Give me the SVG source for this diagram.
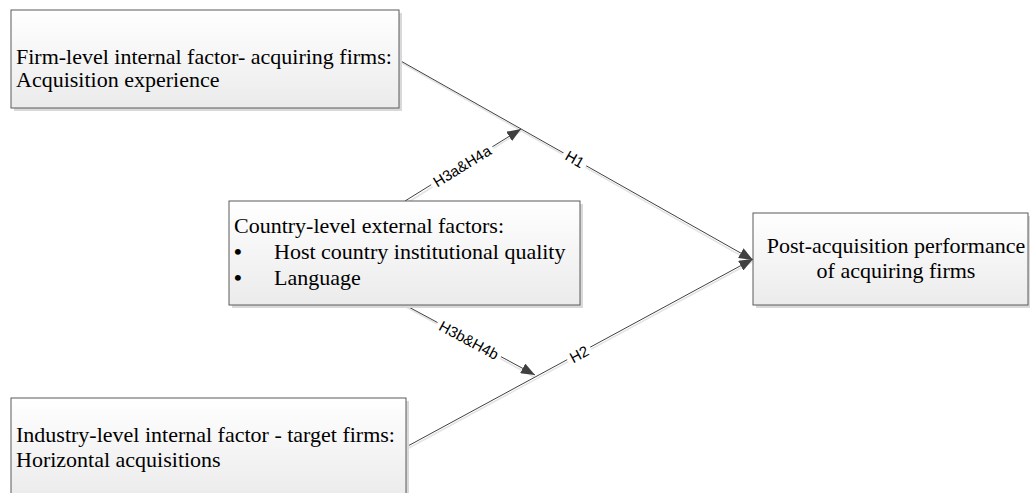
<svg xmlns="http://www.w3.org/2000/svg" width="1030" height="493" viewBox="0 0 1030 493">
<defs>
<linearGradient id="boxfill" x1="0" y1="0" x2="0" y2="1">
<stop offset="0" stop-color="#ffffff"/>
<stop offset="1" stop-color="#ebebeb"/>
</linearGradient>
<marker id="arrow" markerUnits="userSpaceOnUse" markerWidth="14" markerHeight="11" refX="14" refY="5.5" orient="auto">
<path d="M0,0 L14,5.5 L0,11 z" fill="#404040"/>
</marker>
</defs>
<style>
.box{fill:url(#boxfill);stroke:#5a5a5a;stroke-width:1}
.shadow{fill:#d9d9d9}
.t{font-family:"Liberation Serif","Times New Roman",serif;font-size:22px;fill:#000}
.bul{font-family:"Liberation Serif","Times New Roman",serif;font-size:22px;font-weight:bold;fill:#000}
.conn{stroke:#404040;stroke-width:1;fill:none}
.cshadow{stroke:#e3e3e3;stroke-width:1.5;fill:none}
.lbg{fill:#ffffff}
.lbl{font-family:"Liberation Sans",Arial,sans-serif;font-size:15px;fill:#000;text-anchor:middle}
</style>
<rect width="1030" height="493" fill="#ffffff"/>

<g id="connectors">
<line class="cshadow" x1="400" y1="62" x2="752" y2="262"/>
<line class="cshadow" x1="407" y1="449" x2="752" y2="262"/>
<line class="cshadow" x1="407" y1="203" x2="521" y2="131"/>
<line class="cshadow" x1="406" y1="307" x2="534" y2="377"/>
<line class="conn" x1="399" y1="60" x2="753" y2="260" marker-end="url(#arrow)"/>
<line class="conn" x1="406" y1="447" x2="753" y2="259" marker-end="url(#arrow)"/>
<line class="conn" x1="405" y1="201" x2="521" y2="129" marker-end="url(#arrow)"/>
<line class="conn" x1="405" y1="305" x2="535" y2="375" marker-end="url(#arrow)"/>
<g transform="translate(575,159) rotate(29.5)">
<rect class="lbg" x="-13" y="-8" width="26" height="16"/>
<text class="lbl" y="5.5">H1</text>
</g>
<g transform="translate(579,354) rotate(-28.5)">
<rect class="lbg" x="-13" y="-8" width="26" height="16"/>
<text class="lbl" y="5.5">H2</text>
</g>
<g transform="translate(462,166) rotate(-31.6)">
<rect class="lbg" x="-36" y="-8" width="72" height="16"/>
<text class="lbl" y="5.5">H3a&amp;H4a</text>
</g>
<g transform="translate(469,340) rotate(28.3)">
<rect class="lbg" x="-36" y="-8" width="72" height="16"/>
<text class="lbl" y="5.5">H3b&amp;H4b</text>
</g>
</g>

<g id="node-firm">
<rect class="shadow" x="14" y="13" width="388" height="98"/>
<rect class="box" x="11" y="10" width="388" height="98"/>
<text class="t" x="16" y="64">Firm-level internal factor- acquiring firms:</text>
<text class="t" x="16" y="87">Acquisition experience</text>
</g>

<g id="node-country">
<rect class="shadow" x="232" y="204" width="351" height="104"/>
<rect class="box" x="229" y="201" width="351" height="104"/>
<text class="t" x="234" y="233">Country-level external factors:</text>
<text class="bul" x="234" y="259">•</text>
<text class="t" x="274" y="259">Host country institutional quality</text>
<text class="bul" x="234" y="285">•</text>
<text class="t" x="274" y="285">Language</text>
</g>

<g id="node-performance">
<rect class="shadow" x="756" y="216" width="275" height="92"/>
<rect class="box" x="753" y="213" width="275" height="92"/>
<text class="t" x="896" y="253" text-anchor="middle">Post-acquisition performance</text>
<text class="t" x="896" y="278" text-anchor="middle">of acquiring firms</text>
</g>

<g id="node-industry">
<rect class="shadow" x="14" y="401" width="395" height="100"/>
<rect class="box" x="11" y="398" width="395" height="100"/>
<text class="t" x="16" y="442">Industry-level internal factor - target firms:</text>
<text class="t" x="16" y="467">Horizontal acquisitions</text>
</g>
</svg>
